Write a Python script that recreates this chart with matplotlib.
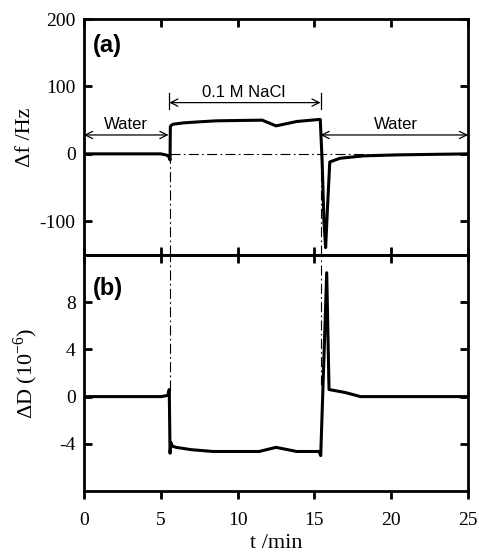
import matplotlib
matplotlib.use('Agg')
import matplotlib.pyplot as plt

plt.rcParams['font.family'] = ['Liberation Serif', 'DejaVu Serif']
plt.rcParams['mathtext.fontset'] = 'custom'
plt.rcParams['mathtext.rm'] = 'Liberation Serif'
plt.rcParams['axes.unicode_minus'] = False

# (a) frequency shift, Hz
t_f = [0, 5.0, 5.4, 5.55, 5.6, 5.62, 5.66, 5.8, 6.5, 7.5, 8.6, 11.6, 12.5, 13.85,
       15.3, 15.38, 15.5, 15.62, 15.73, 15.85, 16.0, 16.67, 18.2, 20.4, 25.0]
df = [0, 0, -2, -5, -9, 40, 42, 44, 46, 47.5, 49, 50, 41.5, 48,
      51, 51, -10, -100, -139, -80, -12, -6.5, -3, -1.5, 0]

# (b) dissipation shift, 1e-6
t_d = [0, 5.0, 5.45, 5.55, 5.6, 5.66, 5.75, 6.0, 7.0, 8.4, 11.4, 12.5, 13.85,
       15.3, 15.41, 15.8, 15.95, 17.0, 18.0, 25.0]
dd = [0, 0, 0.1, 0.6, -4.8, -3.9, -4.2, -4.3, -4.5, -4.65, -4.65, -4.3, -4.65,
      -4.65, -5.0, 10.5, 0.6, 0.35, 0, 0]

xticks = [0, 5, 10, 15, 20, 25]
t_on, t_off = 5.6, 15.4
dash = dict(color='k', lw=0.8, ls='-.', dashes=(9, 3, 1.5, 3))

fig = plt.figure(figsize=(4.79, 5.54), dpi=100)
ax1 = fig.add_axes([0.1754, 0.5397, 0.8017, 0.4260])
ax2 = fig.add_axes([0.1754, 0.1137, 0.8017, 0.4260])

for ax in (ax1, ax2):
    ax.set_xlim(0, 25)
    ax.set_xticks(xticks)
    ax.tick_params(direction='in', length=6, width=2, labelsize=14,
                   top=True, right=True, pad=6)
    for s in ax.spines.values():
        s.set_linewidth(2)

ax1.plot(t_f, df, 'k-', lw=2.2)
ax1.set_ylim(-150, 200)
ax1.set_yticks([-100, 0, 100, 200])
ax1.tick_params(labelbottom=False)
ax1.set_ylabel('Δf /Hz', fontsize=16)
ax1.yaxis.set_label_coords(-0.128, 0.5)
ax1.plot([t_on, 25], [0, 0], **dash)
ax1.plot([t_on, t_on], [-150, 0], **dash)
ax1.plot([t_off, t_off], [-150, 0], **dash)
ax1.text(0.023, 0.886, '(a)', transform=ax1.transAxes, fontsize=17,
         fontweight='bold', family='Liberation Sans', va='center')

# arrows
arr = dict(arrowstyle='<->', lw=0.9, color='k', shrinkA=0, shrinkB=0,
           mutation_scale=13)
ax1.annotate('', xy=(0, 28), xytext=(5.5, 28), arrowprops=arr)
ax1.annotate('', xy=(5.55, 76), xytext=(15.4, 76), arrowprops=arr)
ax1.annotate('', xy=(15.4, 28), xytext=(25, 28), arrowprops=arr)
ax1.plot([5.55, 5.55], [66, 90], 'k-', lw=0.9)
ax1.plot([15.4, 15.4], [66, 90], 'k-', lw=0.9)
ax1.text(2.75, 32, 'Water', ha='center', va='bottom', fontsize=12,
         family='Liberation Sans')
ax1.text(10.4, 80, '0.1 M NaCl', ha='center', va='bottom', fontsize=12,
         family='Liberation Sans')
ax1.text(20.3, 32, 'Water', ha='center', va='bottom', fontsize=12,
         family='Liberation Sans')

ax2.plot(t_d, dd, 'k-', lw=2.2)
ax2.set_ylim(-8, 12)
ax2.set_yticks([-4, 0, 4, 8])
# bottom ticks point outward, top ticks inward
ax2.tick_params(axis='x', bottom=True, top=False, direction='out', pad=9)
sec = ax2.secondary_xaxis('top')
sec.set_xticks(xticks)
sec.tick_params(direction='in', length=6, width=2, labeltop=False)
sec.spines['top'].set_linewidth(2)
ax2.set_ylabel('ΔD (10$^{-6}$)', fontsize=16)
ax2.yaxis.set_label_coords(-0.115, 0.5)
ax2.set_xlabel('t /min', fontsize=16)
ax2.xaxis.set_label_coords(0.5, -0.183)
ax2.plot([t_on, t_on], [0.6, 12], **dash)
ax2.plot([t_off, t_off], [1.0, 12], **dash)
ax2.text(0.023, 0.86, '(b)', transform=ax2.transAxes, fontsize=17,
         fontweight='bold', family='Liberation Sans', va='center')

fig.savefig('out.png', dpi=100)
